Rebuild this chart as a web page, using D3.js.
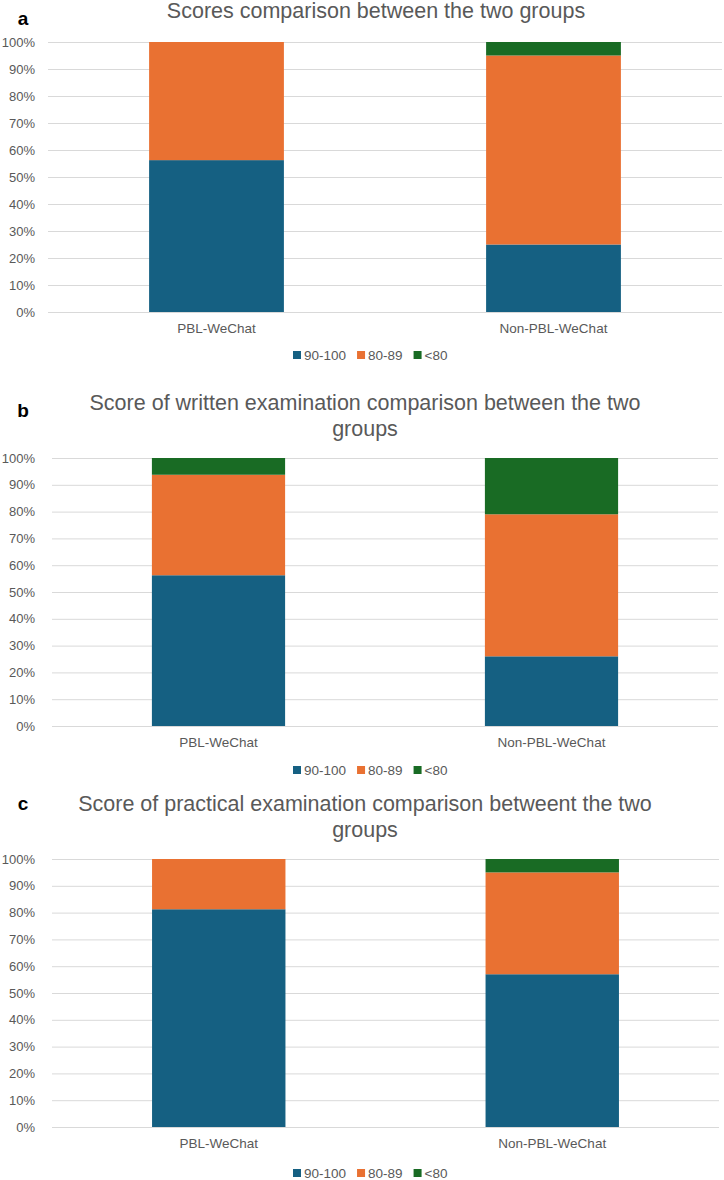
<!DOCTYPE html>
<html>
<head>
<meta charset="utf-8">
<script src="https://cdn.jsdelivr.net/npm/d3@7"></script>
<style>
  body { margin: 0; background: #fff; }
  svg { display: block; font-family: "Liberation Sans", Arial, sans-serif; }
</style>
</head>
<body>
<div id="chart"></div>
<script>
// data (percent of each group)
var groups = ["PBL-WeChat", "Non-PBL-WeChat"];
var bands = ["90-100", "80-89", "<80"];
var bandColors = ["#156082", "#E97132", "#196B24"];
var yTicks = [0, 10, 20, 30, 40, 50, 60, 70, 80, 90, 100];

var letters = ["a", "b", "c"];
var titles = [
  ["Scores comparison between the two groups"],
  ["Score of written examination comparison between the two", "groups"],
  ["Score of practical examination comparison betweent the two", "groups"]
];

var totalHigh = [56.25, 25];
var totalMid = [43.75, 70];
var totalLow = [0, 5];

var writtenHigh = [56.25, 26];
var writtenMid = [37.5, 53];
var writtenLow = [6.25, 21];

var practicalHigh = [81.25, 57];
var practicalMid = [18.75, 38];
var practicalLow = [0, 5];

var panelValues = [
  [totalHigh, totalMid, totalLow],
  [writtenHigh, writtenMid, writtenLow],
  [practicalHigh, practicalMid, practicalLow]
];

// layout of each panel on the page
var layout = [
  {letterY: 18, titleX: 376, titleY: 18, top: 42, bottom: 312, left: 48, right: 722, labelY: 328, legendY: 355},
  {letterY: 410, titleX: 365, titleY: 410, top: 458, bottom: 726, left: 52, right: 718, labelY: 742, legendY: 770},
  {letterY: 803, titleX: 365, titleY: 810.5, top: 859, bottom: 1127, left: 52, right: 719, labelY: 1143, legendY: 1173}
];

var width = 724, height = 1180;
var textColor = "#595959";

var svg = d3.select("#chart").append("svg")
  .attr("width", width).attr("height", height);

panelValues.forEach(function(vals, p) {
  var L = layout[p];
  var g = svg.append("g");

  // rows for d3.stack
  var rows = groups.map(function(name, i) {
    var r = {group: name};
    bands.forEach(function(b, k) { r[b] = vals[k][i]; });
    return r;
  });
  var series = d3.stack().keys(bands)(rows);

  var x = d3.scaleBand().domain(groups)
    .range([L.left, L.right]).paddingInner(0.6).paddingOuter(0.3);
  var y = d3.scaleLinear().domain([0, 100]).range([L.bottom, L.top]);

  // gridlines
  g.append("g").selectAll("line").data(yTicks).join("line")
    .attr("x1", L.left).attr("x2", L.right)
    .attr("y1", function(d) { return y(d) + 0.5; })
    .attr("y2", function(d) { return y(d) + 0.5; })
    .attr("stroke", "#d9d9d9").attr("stroke-width", 1);

  // y axis labels
  g.append("g").selectAll("text").data(yTicks).join("text")
    .attr("x", 35).attr("y", function(d) { return y(d); })
    .attr("dy", "0.35em").attr("text-anchor", "end")
    .attr("font-size", 13).attr("fill", textColor)
    .text(function(d) { return d + "%"; });

  // stacked bars
  g.append("g").selectAll("g").data(series).join("g")
    .attr("fill", function(d, k) { return bandColors[k]; })
    .selectAll("rect").data(function(d) { return d; }).join("rect")
      .attr("x", function(d) { return x(d.data.group); })
      .attr("width", x.bandwidth())
      .attr("y", function(d) { return y(d[1]); })
      .attr("height", function(d) { return y(d[0]) - y(d[1]); });

  // category labels
  g.append("g").selectAll("text").data(groups).join("text")
    .attr("x", function(d) { return x(d) + x.bandwidth() / 2; })
    .attr("y", L.labelY).attr("dy", "0.35em")
    .attr("text-anchor", "middle").attr("font-size", 13.5).attr("fill", textColor)
    .text(function(d) { return d; });

  // title
  g.append("text")
    .attr("x", L.titleX).attr("y", L.titleY)
    .attr("text-anchor", "middle").attr("font-size", 21.5).attr("fill", textColor)
    .selectAll("tspan").data(titles[p]).join("tspan")
      .attr("x", L.titleX)
      .attr("dy", function(d, i) { return i == 0 ? 0 : 26; })
      .text(function(d) { return d; });

  // panel letter
  g.append("text")
    .attr("x", 23).attr("y", L.letterY).attr("dy", "0.35em")
    .attr("text-anchor", "middle").attr("font-size", 19).attr("font-weight", "bold")
    .attr("fill", "#000").text(letters[p]);

  // legend
  var lg = g.append("g").attr("transform", "translate(293," + L.legendY + ")");
  var xo = 0;
  bands.forEach(function(b, k) {
    lg.append("rect").attr("x", xo).attr("y", -4).attr("width", 8).attr("height", 8)
      .attr("fill", bandColors[k]);
    var t = lg.append("text").attr("x", xo + 11).attr("y", 0).attr("dy", "0.35em")
      .attr("font-size", 13.5).attr("fill", textColor).text(b);
    xo += 11 + t.node().getComputedTextLength() + 11;
  });
});
</script>
</body>
</html>
